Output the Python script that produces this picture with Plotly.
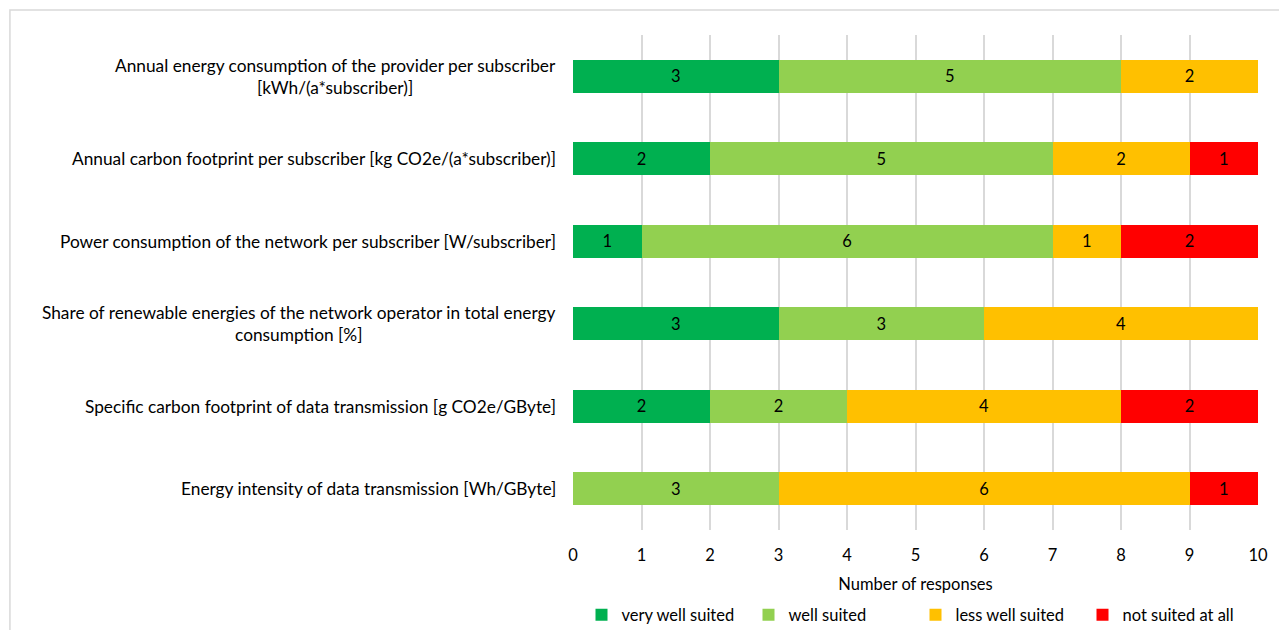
import plotly.graph_objects as go

categories = [
    "Annual energy consumption of the provider per subscriber<br>[kWh/(a*subscriber)]",
    "Annual carbon footprint per subscriber [kg CO2e/(a*subscriber)]",
    "Power consumption of the network per subscriber [W/subscriber]",
    "Share of renewable energies of the network operator in total energy<br>consumption [%]",
    "Specific carbon footprint of data transmission [g CO2e/GByte]",
    "Energy intensity of data transmission [Wh/GByte]",
]
series_names = ["very well suited", "well suited", "less well suited", "not suited at all"]
very_well = [3, 2, 1, 3, 2, 0]
well = [5, 5, 6, 3, 2, 3]
less_well = [2, 2, 1, 4, 4, 6]
not_suited = [0, 1, 2, 0, 2, 1]
x_ticks = list(range(0, 11))

colors = ["#00B050", "#92D050", "#FFC000", "#FF0000"]
FONT = "Lato"
FS = 17.3

fig = go.Figure()
for name, vals, col in zip(series_names, [very_well, well, less_well, not_suited], colors):
    fig.add_trace(go.Bar(
        y=categories, x=vals, name=name, orientation="h",
        marker=dict(color=col, line=dict(width=0)),
        text=[str(v) if v else "" for v in vals],
        textposition="inside", insidetextanchor="middle",
        textfont=dict(color="#000000", size=16.5, family=FONT),
        hoverinfo="x+name",
    ))

for c in categories:
    fig.add_annotation(
        x=-0.022, xref="paper", y=c, yref="y", text=c, showarrow=False,
        xanchor="right", yanchor="middle", align="center",
        font=dict(size=FS, color="#000000", family=FONT),
    )

fig.add_shape(type="rect", xref="paper", yref="paper",
              x0=-0.822, x1=1.038, y0=-0.25, y1=1.0505,
              line=dict(color="#D9D9D9", width=1.5), fillcolor="rgba(0,0,0,0)", layer="below")

fig.update_layout(
    barmode="stack", bargap=0.6,
    width=1279, height=622,
    margin=dict(l=565, r=29, t=27, b=100, autoexpand=False),
    paper_bgcolor="white", plot_bgcolor="white",
    font=dict(family=FONT, size=FS, color="#000000"),
    showlegend=True,
    legend=dict(orientation="h", x=0.5, xanchor="center", y=-0.172, yanchor="middle",
                font=dict(size=16.5, family=FONT), traceorder="normal",
                itemwidth=30, tracegroupgap=0, entrywidth=122, entrywidthmode="pixels"),
    xaxis=dict(range=[0, 10], tickvals=x_ticks, showgrid=True, gridcolor="#D9D9D9", gridwidth=1.5,
               zeroline=False, showline=False, ticks="outside", ticklen=10, tickcolor="white",
               tickfont=dict(size=16.5, family=FONT), automargin=False,
               title=dict(text="Number of responses", font=dict(size=16.5, family=FONT), standoff=14)),
    yaxis=dict(autorange="reversed", showticklabels=False, showgrid=False, zeroline=False,
               showline=False, ticks="", automargin=False),
)

fig.write_html("out.html")
